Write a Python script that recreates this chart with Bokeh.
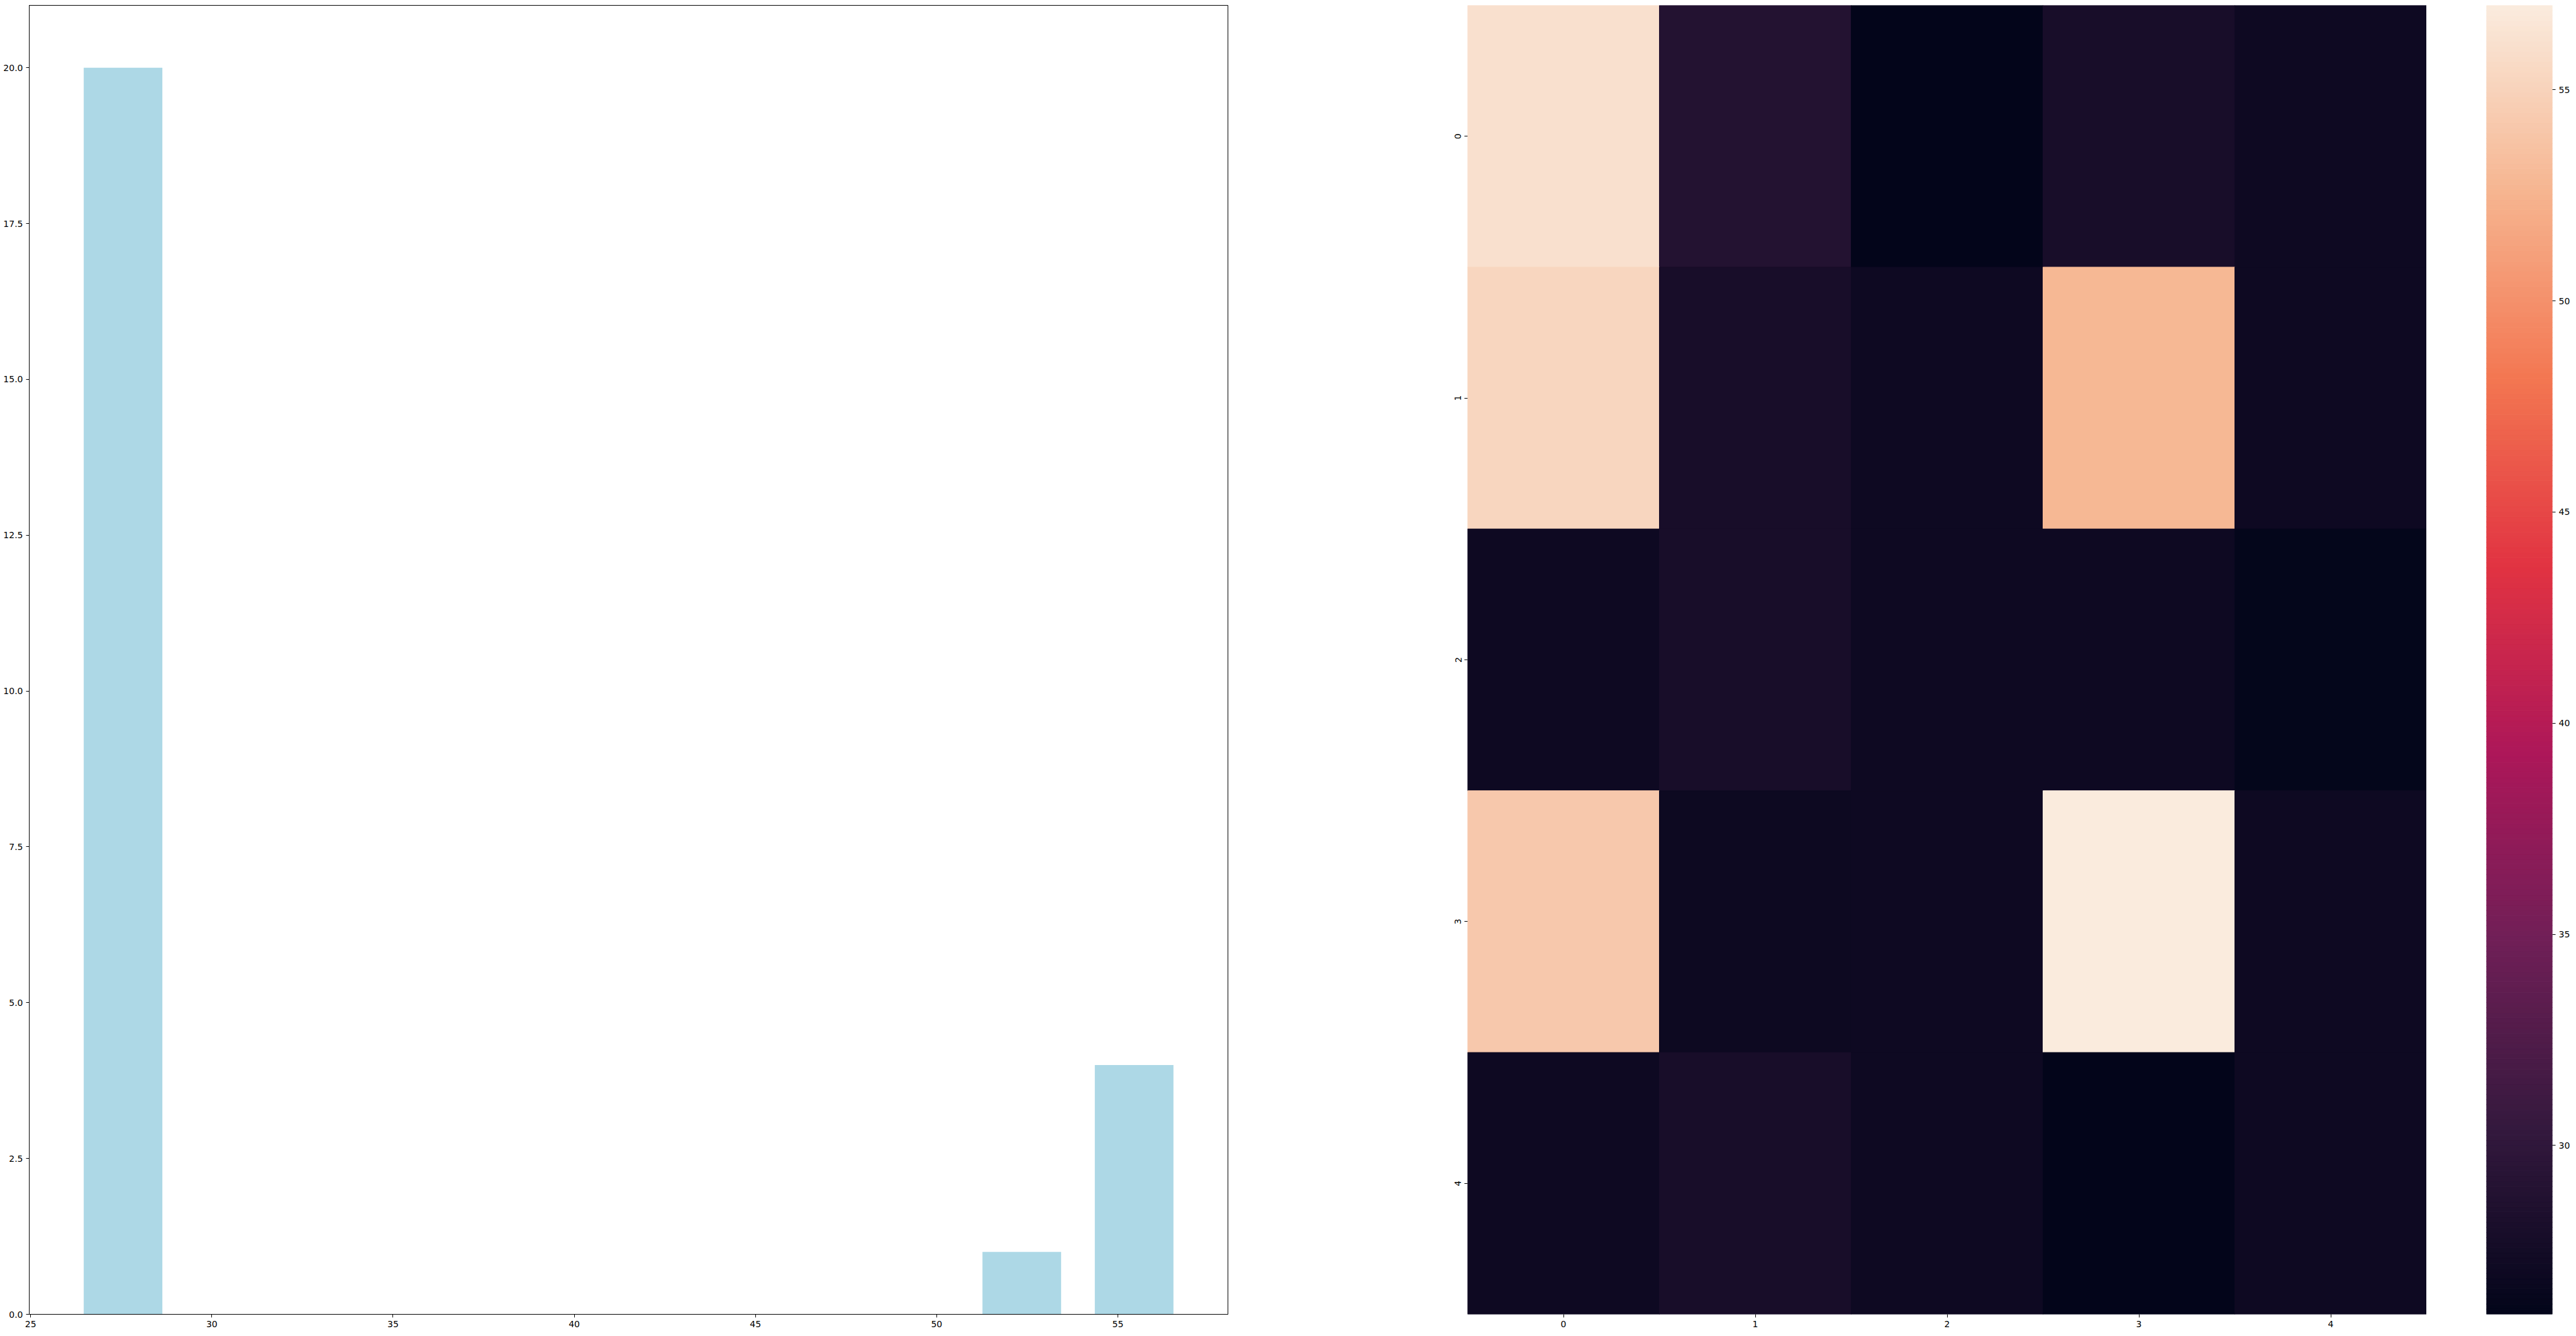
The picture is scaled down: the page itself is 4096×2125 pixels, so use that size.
import numpy as np
from bokeh.plotting import figure
from bokeh.layouts import row
from bokeh.models import (Range1d, FactorRange, FixedTicker, PrintfTickFormatter,
                          ColumnDataSource, LinearColorMapper)
from bokeh.transform import transform
from bokeh.embed import file_html
from bokeh.resources import INLINE

# ---------------- data ----------------
row_labels = ["0", "1", "2", "3", "4"]
col_labels = ["0", "1", "2", "3", "4"]
heat_row0 = [56.1, 28.9, 26.1, 27.9, 27.0]
heat_row1 = [55.2, 27.9, 27.0, 52.8, 27.0]
heat_row2 = [27.0, 27.9, 27.0, 27.0, 26.2]
heat_row3 = [54.2, 26.9, 27.0, 57.0, 27.0]
heat_row4 = [27.0, 27.9, 27.0, 26.0, 27.0]
heat_rows = [heat_row0, heat_row1, heat_row2, heat_row3, heat_row4]

hist_bins = 10
hist_rwidth = 0.7
hist_x_ticks = [25, 30, 35, 40, 45, 50, 55]
hist_y_ticks = [0, 2.5, 5, 7.5, 10, 12.5, 15, 17.5, 20]
cbar_ticks = [30, 35, 40, 45, 50, 55]

# rocket colormap anchors (style)
rocket_anchors = [(0.0, "#03051a"), (1 / 7, "#35193e"), (2 / 7, "#701f57"),
                  (3 / 7, "#ad1759"), (4 / 7, "#e13342"), (5 / 7, "#f37651"),
                  (6 / 7, "#f6b48f"), (1.0, "#faebdd")]


def build_palette(anchors, n=256):
    pos = np.array([a[0] for a in anchors])
    rgb = np.array([[int(h[i:i + 2], 16) for i in (1, 3, 5)] for _, h in anchors], dtype=float)
    t = np.linspace(0, 1, n)
    out = []
    for tt in t:
        c = [int(round(np.interp(tt, pos, rgb[:, k]))) for k in range(3)]
        out.append("#%02x%02x%02x" % tuple(c))
    return out


palette = build_palette(rocket_anchors)

values = np.array(heat_rows, dtype=float)
vmin, vmax = float(values.min()), float(values.max())
mapper = LinearColorMapper(palette=palette, low=vmin, high=vmax)

FONT = "DejaVu Sans"
FS = "14px"
FRAME_H = 2082
TOP = 8
BOTTOM = 35


def style_axis(ax, line=True):
    ax.major_label_text_font = FONT
    ax.major_label_text_font_size = FS
    ax.major_label_text_color = "black"
    ax.major_tick_in = 0
    ax.major_tick_out = 5
    ax.minor_tick_in = 0
    ax.minor_tick_out = 0
    ax.major_tick_line_color = "black"
    ax.major_tick_line_width = 1
    ax.major_label_standoff = 5
    ax.axis_line_color = "black" if line else None


# ---------------- histogram ----------------
counts, edges = np.histogram(values.ravel(), bins=hist_bins, range=(vmin, vmax))
centers = (edges[:-1] + edges[1:]) / 2
bw = (edges[1] - edges[0]) * hist_rwidth
lo = centers[0] - bw / 2
hi = centers[-1] + bw / 2
pad = (hi - lo) * 0.05

p1 = figure(frame_width=1906, frame_height=FRAME_H,
            x_range=Range1d(lo - pad, hi + pad), y_range=Range1d(0, counts.max() * 1.05),
            output_backend="svg", toolbar_location=None,
            min_border_left=46, min_border_right=10, min_border_top=TOP, min_border_bottom=BOTTOM)
p1.vbar(x=centers, top=counts, bottom=0, width=bw, fill_color="#add8e6", line_color=None)
p1.xgrid.visible = False
p1.ygrid.visible = False
p1.outline_line_color = "black"
p1.outline_line_width = 1
p1.xaxis.ticker = FixedTicker(ticks=hist_x_ticks)
p1.yaxis.ticker = FixedTicker(ticks=hist_y_ticks)
p1.yaxis.formatter = PrintfTickFormatter(format="%.1f")
style_axis(p1.xaxis[0])
style_axis(p1.yaxis[0])

# ---------------- heatmap ----------------
xs, ys, vs = [], [], []
for i, r in enumerate(row_labels):
    for j, c in enumerate(col_labels):
        xs.append(c)
        ys.append(r)
        vs.append(heat_rows[i][j])
src = ColumnDataSource(dict(x=xs, y=ys, value=vs))

p2 = figure(frame_width=1525, frame_height=FRAME_H,
            x_range=FactorRange(*col_labels), y_range=FactorRange(*row_labels[::-1]),
            output_backend="svg", toolbar_location=None,
            min_border_left=371, min_border_right=0, min_border_top=TOP, min_border_bottom=BOTTOM)
p2.rect(x="x", y="y", width=1, height=1, source=src,
        fill_color=transform("value", mapper), line_color=transform("value", mapper), line_width=1)
p2.xgrid.visible = False
p2.ygrid.visible = False
p2.outline_line_color = None
style_axis(p2.xaxis[0], line=False)
style_axis(p2.yaxis[0], line=False)
p2.yaxis.major_label_orientation = "vertical"

# ---------------- colorbar ----------------
nb = len(palette)
cb_edges = np.linspace(vmin, vmax, nb + 1)
p3 = figure(frame_width=105, frame_height=FRAME_H,
            x_range=Range1d(0, 1), y_range=Range1d(vmin, vmax),
            x_axis_location=None, y_axis_location="right",
            output_backend="svg", toolbar_location=None,
            min_border_left=95, min_border_right=37, min_border_top=TOP, min_border_bottom=BOTTOM)
p3.quad(left=0, right=1, bottom=cb_edges[:-1], top=cb_edges[1:],
        fill_color=palette, line_color=palette, line_width=1)
p3.xgrid.visible = False
p3.ygrid.visible = False
p3.outline_line_color = None
p3.yaxis.ticker = FixedTicker(ticks=cbar_ticks)
style_axis(p3.yaxis[0], line=False)

layout = row(p1, p2, p3)
open("out.html", "w").write(file_html(layout, INLINE))
